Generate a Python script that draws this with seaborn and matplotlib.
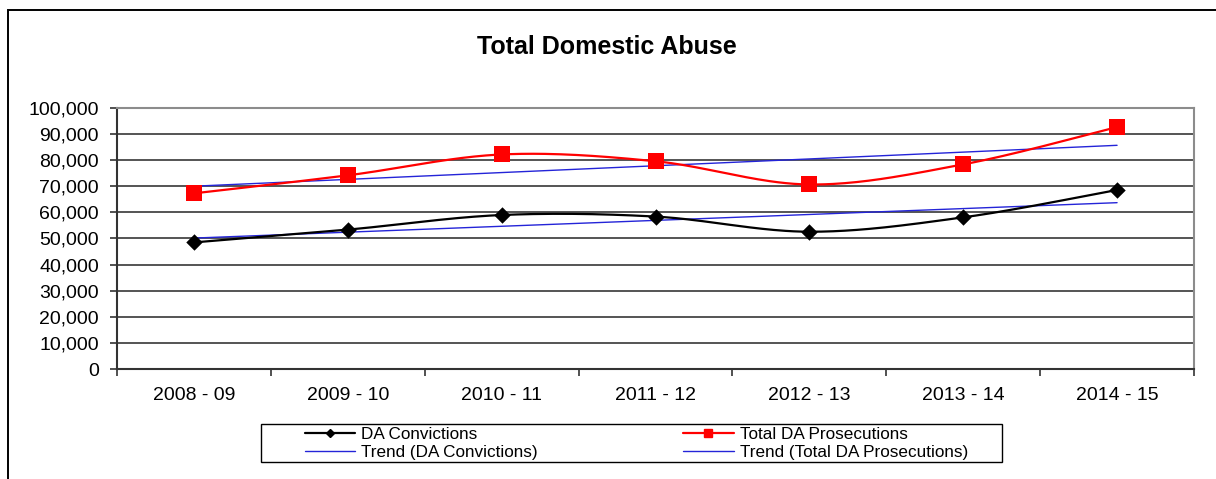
import numpy as np
import pandas as pd
import matplotlib
matplotlib.use("Agg")
import matplotlib.pyplot as plt
import seaborn as sns
from matplotlib.lines import Line2D
from matplotlib.patches import Rectangle
from matplotlib.ticker import FuncFormatter, MultipleLocator, FixedLocator

# ---- data ----
years = ["2008 - 09", "2009 - 10", "2010 - 11", "2011 - 12", "2012 - 13", "2013 - 14", "2014 - 15"]
convictions = [48500, 53400, 59000, 58400, 52600, 58100, 68600]
prosecutions = [67300, 74200, 82200, 79600, 70700, 78400, 92700]
series_names = ["DA Convictions", "Total DA Prosecutions"]
trend_names = ["Trend (DA Convictions)", "Trend (Total DA Prosecutions)"]
title = "Total Domestic Abuse"

sns.set_theme(style="white")
plt.rcParams["font.family"] = ["Liberation Sans", "DejaVu Sans"]
plt.rcParams["text.color"] = "#000000"
plt.rcParams["xtick.color"] = "#000000"
plt.rcParams["ytick.color"] = "#000000"

W, H = 1216, 479
fig = plt.figure(figsize=(W / 100, H / 100), dpi=100)
ax = fig.add_axes([117 / W, 1 - 369 / H, (1194 - 117) / W, (369 - 108) / H])

x_idx = np.arange(len(years))


def catmull_rom(xs, ys, n=40):
    xs = np.asarray(xs, float)
    ys = np.asarray(ys, float)
    px = np.concatenate([[xs[0]], xs, [xs[-1]]])
    py = np.concatenate([[ys[0]], ys, [ys[-1]]])
    outx, outy = [], []
    for i in range(1, len(px) - 2):
        p0 = np.array([px[i - 1], py[i - 1]])
        p1 = np.array([px[i], py[i]])
        p2 = np.array([px[i + 1], py[i + 1]])
        p3 = np.array([px[i + 2], py[i + 2]])
        c1 = p1 + (p2 - p0) / 6.0
        c2 = p2 - (p3 - p1) / 6.0
        t = np.linspace(0, 1, n)[:, None]
        pts = ((1 - t) ** 3) * p1 + 3 * ((1 - t) ** 2) * t * c1 + 3 * (1 - t) * t ** 2 * c2 + t ** 3 * p2
        if i > 1:
            pts = pts[1:]
        outx.extend(pts[:, 0])
        outy.extend(pts[:, 1])
    return np.array(outx), np.array(outy)


colors = ["#000000", "#FF0000"]
markers = ["D", "s"]
msizes = [70, 120]
trend_color = "#2424D8"

for vals, col, mk, ms in zip([convictions, prosecutions], colors, markers, msizes):
    sx, sy = catmull_rom(x_idx, vals)
    sns.lineplot(x=sx, y=sy, ax=ax, color=col, lw=1.6, sort=False, estimator=None, zorder=3)
    # linear trend
    coef = np.polyfit(x_idx, vals, 1)
    tr = np.polyval(coef, x_idx)
    sns.lineplot(x=x_idx, y=tr, ax=ax, color=trend_color, lw=1.0, estimator=None, zorder=2)
    sns.scatterplot(x=x_idx, y=vals, ax=ax, color=col, marker=mk, s=ms, linewidth=0, zorder=4)

ax.set_xlim(-0.5, len(years) - 0.5)
ax.set_ylim(0, 100000)
ax.yaxis.set_major_locator(MultipleLocator(10000))
ax.yaxis.set_major_formatter(FuncFormatter(lambda v, p: f"{v:,.0f}"))
ax.set_xticks(x_idx)
ax.set_xticklabels(years)
ax.xaxis.set_minor_locator(FixedLocator(np.arange(-0.5, len(years), 1.0)))

ax.grid(axis="y", color="#262626", lw=1.1, zorder=0)
ax.set_axisbelow(True)

for s in ["left", "bottom"]:
    ax.spines[s].set_color("#333333")
    ax.spines[s].set_linewidth(1.5)
for s in ["top", "right"]:
    ax.spines[s].set_color("#8c8c8c")
    ax.spines[s].set_linewidth(1.5)
    ax.spines[s].set_visible(True)

ax.tick_params(axis="y", which="major", direction="out", length=5, width=1.2, color="#333333",
               labelsize=14, pad=8, left=True, labelcolor="#000000")
ax.tick_params(axis="x", which="major", length=0, labelsize=14, pad=13, labelcolor="#000000")
ax.tick_params(axis="x", which="minor", direction="out", length=5, width=1.2, color="#333333", bottom=True)
ax.set_xlabel("")
ax.set_ylabel("")

fig.text(607 / W, 1 - 54 / H, title, ha="center", va="baseline", fontsize=18, fontweight="bold",
         color="#000000")

# outer frame
fig.patches.append(Rectangle((7.5 / W, -0.1), 1.2, 1 - 9.5 / H + 0.1, transform=fig.transFigure,
                             fill=False, edgecolor="#000000", lw=1.4, clip_on=False))
# legend box
fig.patches.append(Rectangle((261 / W, 1 - 462 / H), (1002 - 261) / W, (462 - 424) / H,
                             transform=fig.transFigure, fill=False, edgecolor="#000000", lw=1.0))

handles = [
    Line2D([], [], color="#000000", lw=1.6, marker="D", markersize=4.5),
    Line2D([], [], color=trend_color, lw=1.0),
    Line2D([], [], color="#FF0000", lw=1.6, marker="s", markersize=6),
    Line2D([], [], color=trend_color, lw=1.0),
]
labels = [series_names[0], trend_names[0], series_names[1], trend_names[1]]
fig.legend(handles, labels, loc="center left", bbox_to_anchor=(305 / W, 1 - 443.5 / H),
           bbox_transform=fig.transFigure, ncol=2, frameon=False, fontsize=12.3,
           handlelength=2.95, handletextpad=0.35, columnspacing=8.5, labelspacing=0.22,
           borderpad=0, borderaxespad=0, labelcolor="#000000")

fig.savefig("out.png", dpi=100)
